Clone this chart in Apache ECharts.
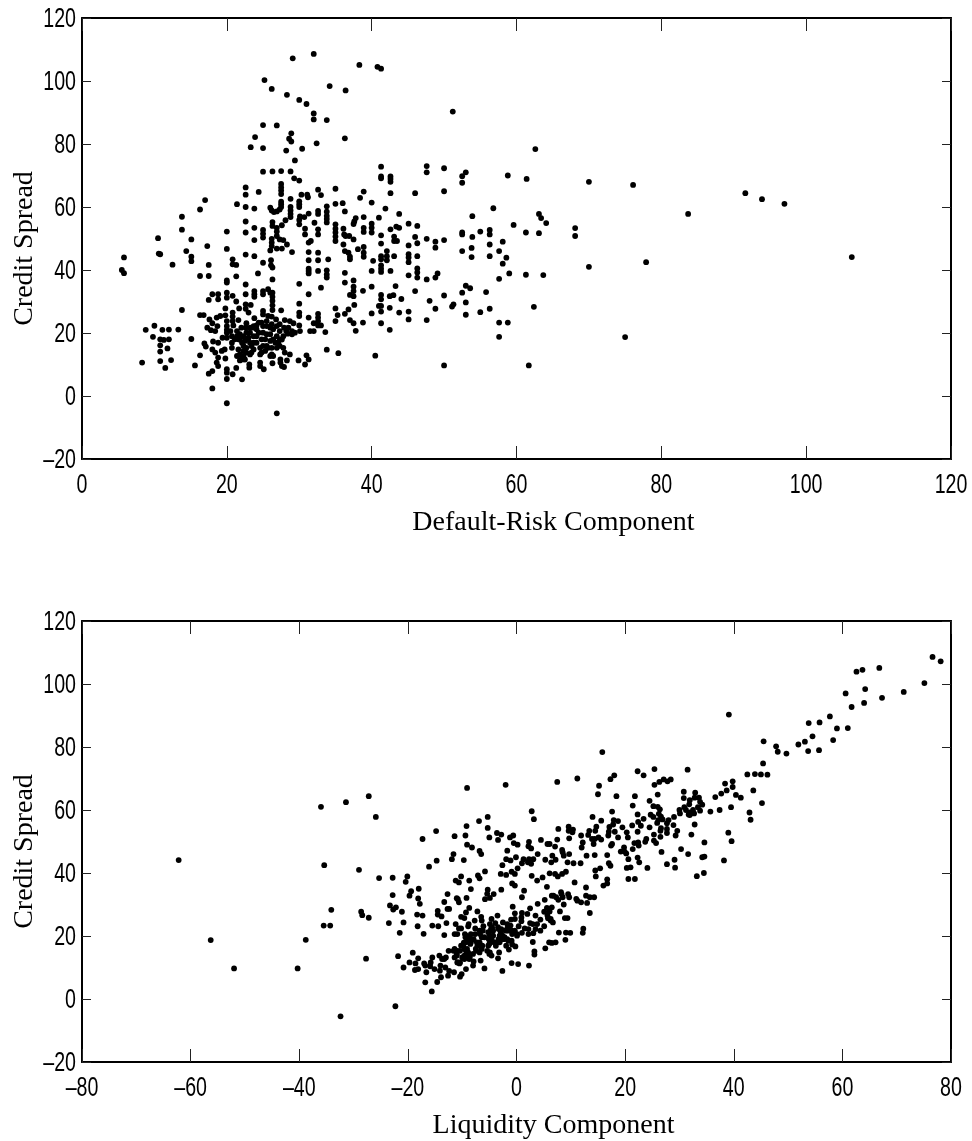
<!DOCTYPE html>
<html>
<head>
<meta charset="utf-8">
<style>html,body{margin:0;padding:0;background:#fff}#c{width:972px;height:1141px}</style>
<script src="https://cdn.jsdelivr.net/npm/echarts@6/dist/echarts.min.js"></script>
</head>
<body>
<div id="c"></div>
<script>
const defaultRisk = [
29.1,32,38.3,40.8,41.3,25.2,26.2,34.2,36.4,28.3,
30,31,32,32,33.8,51.2,25,26.9,28.9,23.9,
28.6,28.9,36.3,32.4,23.3,25,28.2,30.4,29.4,25,
26.3,27.5,28.8,29.3,30,41.3,41.3,41.3,42.6,42.6,
42.6,47.6,47.6,50,53,52.5,52.5,58.8,61.4,22.6,
22.6,24.4,27.5,27.5,27.5,27.5,32.6,35,30.3,31.1,
31.2,33,38.9,42.6,46,50,28.8,38.4,17,27.5,
27.5,27.5,30,30,30,35,36,40,21.4,16.3,
22.6,23.8,41.9,33.8,36.3,26,26.2,26.5,26.9,27.3,
28.8,28.8,28.8,28.8,32.6,32.6,33.8,33.8,33.8,33.8,
31.3,30.1,30.7,43.8,56.8,53.9,13.8,38.9,41,37.8,
37.6,37.5,13.8,10.5,15.1,20,22.6,22.6,23.8,23.8,
25,25,25,26.3,26.3,27.6,26.9,26.9,26.9,28.1,
30,30,30.8,30.8,32.1,32.6,32.6,35,35,35,
35,35,36.1,36.4,36.2,36.9,37.5,38.9,38.9,40,
40,40,41.3,42.6,43.4,43.8,45.1,46.3,46,46.3,
45.1,43.1,43.1,43.5,41.3,47.6,48.8,48.8,50,52.5,
52.5,53.9,55,56.3,56.3,59.6,61.3,58.1,56.3,52.5,
53.8,53.8,56.3,57.6,58.6,58.1,59,57.6,61.3,5.8,
5.5,5.8,10.6,10.8,12.5,14.4,15.1,15.1,17.3,17.5,
20,16.3,17.5,20.8,20.8,21.3,22.6,23.8,25,26.1,
26.1,26.3,21.3,24.3,20,20,22.6,26.3,30,33,
31.3,31.3,31.3,31.3,31.3,32.6,32.6,32.6,34,33.8,
33.8,33.8,29,26,26.9,27.6,26.2,26.2,26.2,27.3,
27.8,28.3,31.3,31.6,36.1,36.3,36.8,37,37,38.1,
38.9,38.9,38.9,40.2,41.3,41.3,41.3,41.3,41.3,42.1,
42.1,42.1,43.1,45.1,45.1,45.1,46.3,42.6,40,36.3,
45.1,46.3,46.3,46.3,47.6,49.1,48.8,40,37.5,37.5,
37.5,37.5,37,38.8,36.3,43.3,46,31.3,42.5,43,
41.3,41.3,41.3,41.3,41,44.1,48,50,52.5,53,
53.6,55.8,53,51.3,51.1,48.8,42.5,43.8,45.1,45.1,
47.6,53,55,56.3,57.6,58.8,57.6,50,61.7,40.5,
35.4,33.8,42.5,41.3,40,38.8,37.8,37.5,37,36.8,
36.3,37.6,35,35.3,35,32.6,32.6,32.6,32.6,32,
33,33.6,31.5,32,31.3,30,30,30,30,30.1,
29.4,29,27.5,26.3,26.3,26.3,26.3,26.3,25.7,26,
25,25,23.8,23.8,23.8,22.6,22.6,23.3,21.3,20.8,
20,20,18.8,18.8,18,17.5,13.8,8.8,10,11.1,
12,13.3,9.8,10.8,11.3,12,10.8,10.8,11.8,15.1,
8.3,10.8,12.3,11.5,15.6,16.3,16.9,17.1,17.3,17.8,
18.4,17.6,18,18.7,18.6,19.1,19.8,19.8,20.8,20.8,
21.7,22.6,23,21.6,20,20,20,20.8,20.9,23.8,
22.7,25,25,25.7,26.2,26.8,24.8,23.7,24.1,27.3,
28,28.7,29.2,27.3,28.4,29,21.4,21.8,20.7,21.1,
19.4,18.1,18.8,18,18.4,19.3,19.7,20.7,20.7,21.6,
22.3,22.5,23,23.2,23.7,22.3,22.3,22.5,21.8,23.2,
23.1,23.1,24.1,24.1,24.1,25,25,24.8,25,24.8,
24.6,26,26,26,26.2,26.2,25.5,26.9,26.7,27.3,
27.8,28,28.7,20,18.6,18.8,19.8,18.8,17.5,18,
20,20,20,20.8,21.3,22.1,18,20,26.9,24.6,
24.6,25.1,26.3,27.4,27.4,27.6,27.9,28.3,29.9,30.8,
31,31.3,22,22.4,21.6,22.1,22.7,23.4,23.7,23.7,
23.4,25.3,25.5,25.5,26.4,26.4,27.3,27.8,28.2,16.3,
16.8,62.6,70,76.1,83.7,91.6,93.9,97,106.3,77.9,
75,70,68.1,68.1,63.1,63.4,64.1,63.1,62.4,63.7,
20,20.5,21.4,21.8,22.3,22.7,23.2,22.6,22,24.4,
25.5,26.2,26.9,27.9,28.5,23.2,23.7,22.7,21.8,21.4,
25.7,25.3,26.9,27.1,27.6,26,26.4,24.6,24.4,22.7
];
const creditSpread = [
107.2,108.6,105.1,104.5,103.9,100.3,97.5,98.4,97,95.6,
94,92.7,89.7,87.8,87.6,90.3,86,85.9,83.4,82.2,
81.7,80.8,81.8,80.2,79,78.7,77.9,78.5,74.8,71.2,
71.3,71.4,71.3,69.1,68.4,72.8,69.7,69.1,69.7,68.9,
68,73,71,72.3,71,69.8,67.7,70,68.9,66.2,
63.9,64.8,67.3,66.2,65.2,64.1,65.5,65.8,63.9,63.9,
63.1,63.8,64.9,64.4,64.4,65,62.6,62.9,62.2,61.7,
60.9,60,61.8,60.9,60,61,61.2,61.4,60.9,59.2,
60,59.5,59.5,60.2,58.6,59.8,58.9,58.4,58.6,59.2,
60,58.9,57.8,56.8,58.8,57.8,58.5,57.2,56.2,55.1,
57.9,57,56.8,57.8,59.6,57.1,56.9,56.8,56.6,56.5,
55.4,54.6,52.8,50.1,49.7,52.2,55.4,51.9,53.4,49.5,
52.7,51.5,50.3,55.2,54,54.2,53.4,52.2,50.8,55.8,
55.9,54.5,53.1,51.3,55,52.9,51.3,54.5,53.1,51.9,
50.6,49.2,53.1,50.8,51.3,50.8,49.7,53.4,52.1,54.7,
53.4,51.9,51,52.9,53.8,53.4,54.7,54,50.5,48.5,
47.8,50.6,49.2,49.2,48.4,49.9,49,47.1,49.5,51.9,
51.3,50.5,52.2,52.7,51.3,54.3,51.9,49,48.1,46,
47,44.1,44.4,46,43.9,42,38.9,37.2,38.5,44,
40,39,45.2,45,41.7,46,44.2,42.8,47.6,41.6,
46.7,38.1,38.1,43.4,41.8,41.6,44.9,44.4,42.3,43.1,
41.5,40.8,38,38.9,36,36.7,35.4,37,35.6,34.4,
45.7,43.1,40.4,39.7,38.9,45.5,43.1,39.7,43.4,39.9,
38.6,37.6,45.7,46.2,46.8,46.8,49.9,48.7,47.6,49.7,
49.5,48.1,48.7,49.2,48.1,46,45.5,44.2,43.4,46.6,
47.3,45.5,44.2,42.9,44.4,43.4,41.5,40.4,39.4,46,
44.4,43.1,44.4,45,44,42.5,44.4,39.7,39.7,39.1,
38.3,40.5,39.2,37.6,37,38.9,37.6,34.7,36.7,34.7,
33.3,31.7,32.1,33.4,36,34.9,33.3,32.3,31.7,32,
32.1,30.7,28.6,26.8,28.6,30.8,30.2,31.9,32.8,35,
34.2,33,29.7,29.1,28.4,27.7,28,26.5,26.8,24.3,
24.1,25.8,26.6,27.7,23.3,23.3,18.8,9.7,9.7,12.8,
13.6,14.7,21,23.1,26.2,23.3,20.7,23.1,24.1,27.5,
26.1,28.9,27.8,25.7,23.8,26.1,24.9,23.8,22.4,23.1,
22.4,20.3,20.6,20.6,24.9,29.3,26.5,25.4,22.4,20.6,
20.1,19.6,27.2,32.8,31.5,30.2,28.8,27.3,33.9,32.8,
33.3,32.3,33.3,32.3,31.5,32.3,29.1,28.9,30,31.8,
32.8,31.2,32.3,30.7,32.3,30.5,27.3,21,22.3,21,
21.1,21.1,18.8,18,17.8,18,16.1,14.1,15.1,18.1,
10.6,11.1,11.4,8.9,9.7,12.9,16.7,15.7,21.7,20.9,
20.6,24.3,23.1,22.2,24.9,25.4,25.6,27.8,26.5,25.2,
27.8,27.7,26.5,24.1,23.8,22.2,21,23.8,22.4,24.7,
23.1,27,25.9,25.4,25.2,24.3,23.3,22.2,22.4,22.8,
24.1,23.8,23.1,20.6,19.8,20.6,20.6,19.6,19,18,
18.5,17.3,16.9,14.8,13.8,14.3,14.8,16.9,15.3,14.8,
15.9,17.5,18.5,20.1,21.7,14.3,12.7,11.6,11.3,13.2,
10,9,21.2,19,16.9,22.2,20.1,18,15.9,13.8,
13.2,21.7,19.6,17.5,15.3,13.2,15.9,19,16.9,15.9,
15.3,13.8,13.2,18.5,10.6,12.2,11.9,9.5,7.1,7.9,
8.5,7.4,5.4,6.9,8.9,5.3,2.4,-2.3,-5.5,10.6,
9.5,8.5,10.4,11.6,10.6,9.5,9.2,11.3,11.3,10,
12.9,11.6,11.6,11.6,18,16.9,15.3,13.8,19,16.9,
15.9,18,19.6,22.2,18,21.2,18,19,20.6,25.7,
25.7,78.4,68,67,57.8,64.4,62.5,61,44.1,42.5,
18.7,41,53.3,50.8,57.8,56.5,54.9,51.7,28.3,38.4,
20.1,20.6,19,17.9,19,20.1,21.7,21.7,21.7,23.3,
23.8,22.8,22.2,21.7,21.7,16.9,14.8,13.8,13.2,12.7,
15.3,14.3,15.3,16.9,17.9,12.7,12.7,15.3,20.1,18
];
const liquidity = [
78.1,76.6,66.8,63.7,62.6,75.1,71.3,64.2,60.6,67.3,
64,61.7,57.7,55.8,53.8,39.1,61,59,54.5,58.3,
53.1,51.9,45.5,47.8,55.7,53.7,49.7,48.1,45.4,46.2,
45,43.9,42.5,39.8,38.4,31.5,28.4,27.8,27.1,26.3,
25.4,25.4,23.4,22.3,18,17.3,15.2,11.2,7.5,43.6,
41.3,40.4,39.8,38.7,37.7,36.6,32.9,30.8,33.6,32.8,
31.9,30.8,26,21.8,18.4,15,33.8,24.5,45.2,34.2,
33.4,32.5,31.8,30.9,30,26,25.2,21.4,39.5,42.9,
37.4,35.7,17.6,26.4,22.3,33.8,32.7,31.9,31.7,31.9,
31.2,30.1,29,28,26.2,25.2,24.7,23.4,22.4,21.3,
26.6,26.9,26.1,14,2.8,3.2,43.1,17.9,15.6,18.7,
17.8,17.1,39,39.6,34.6,32.2,32.8,29.3,29.6,25.7,
27.7,26.5,25.3,28.9,27.7,26.6,26.5,25.3,23.9,27.7,
25.9,24.5,22.3,20.5,22.9,20.3,18.7,19.5,18.1,16.9,
15.6,14.2,17,14.4,15.1,13.9,12.2,14.5,13.2,14.7,
13.4,11.9,9.7,10.3,10.4,9.6,9.6,7.7,4.5,2.2,
2.7,7.5,6.1,5.7,7.1,2.3,0.2,-1.7,-0.5,-0.6,
-1.2,-3.4,-2.8,-3.6,-5,-5.3,-9.4,-9.1,-8.2,-6.5,
-6.8,-9.7,-11.9,-11.6,-14.7,-16.1,-20.1,-20.4,-22.8,38.2,
34.5,33.2,34.6,34.2,29.2,31.6,29.1,27.7,30.3,24.1,
26.7,21.8,20.6,22.6,21,20.3,22.3,20.6,17.3,17,
15.4,14.5,16.7,14.6,16,16.7,12.8,10.7,5.6,1.4,
14.4,11.8,9.1,8.4,7.6,12.9,10.5,7.1,9.4,6.1,
4.8,3.8,16.7,20.2,19.9,19.2,23.7,22.5,21.4,22.4,
21.7,19.8,17.4,17.6,12,9.7,8.7,7.2,6.4,8.5,
8.4,6.6,5.3,2.7,3.1,2.1,0.2,-0.9,-1.9,3.9,
2.3,1,1.3,-0.1,-1.1,-2.6,-1.9,-2.9,-0.3,2.8,
-6.8,-5.8,-7.1,-8.7,-10.6,-10.2,-11.2,-5.3,-0.8,-2.8,
-4.2,-5.8,-4.9,-5.4,-0.3,-8.4,-12.7,1,-10.8,-11,
-9.2,-10.6,-12.7,-14.5,-12.4,-13.3,-17.8,-18.1,-19.7,-18,
-19.4,-22.8,-23.3,-22.2,-22.7,-21.1,-14.5,-17.3,-18.3,-20.8,
-23.5,-27.2,-28.4,-28.6,-34.3,-35.5,-38.8,-40.3,-52,-27.7,
-21.8,-19.1,-21.5,-18.2,-13.8,-15.5,-17.1,-14.4,-12.9,-9.3,
-10.2,-8.7,-7.2,-9.6,-11.2,-6.5,-7.7,-8.8,-10.2,-8.9,
-10.6,-13.3,-10.9,-11.4,-6.4,-0.7,-3.5,-4.6,-7.6,-9.5,
-9.3,-9.4,-0.3,6.5,5.2,3.9,2.5,1,8.2,6.8,
8.3,7.3,9.5,8.5,7.7,9.7,6.5,5.6,8.7,11,
12.8,11.2,13.5,11.9,14.3,13,13.5,12.2,12.3,9.9,
9.1,7.8,9,7.2,6.5,6,5.3,3.3,3.3,3,
2.3,0.3,-0.9,-2.6,-5.9,-3.4,-0.2,-1.4,4.4,3.1,
2.2,6.7,5.1,3.5,6.3,6.3,5.8,8,5.7,4.4,
6.1,5.1,3.5,2.5,3.8,2.2,1,3,1.5,0.9,
0.4,2,0.9,-0.3,-1,-2.5,-1.5,-1.5,-1.7,-4.5,
-3.9,-4.9,-6.1,-6.7,-8.6,-8.4,-0.8,-2.2,-1.7,-3.1,
-0.9,-0.8,-1.9,-3.2,-4.6,-5,-4.9,-3.8,-5.4,-6.8,
-6.4,-5,-4.5,-3.1,-2,-8,-9.6,-10.9,-10.5,-10,
-13.1,-14.1,-2.9,-5.1,-7.2,-2.8,-4.9,-6.8,-9.1,-11,
-11.4,-4.3,-6.4,-8.5,-10.9,-13,-9.6,-7.9,-9.8,-11.4,
-12.5,-14.2,-15.5,-1.5,-8,-6.6,-7.9,-9.3,-10.4,-10.1,
-11.5,-12.6,-14.6,-13.9,-12.4,-16.8,-15.6,-22.3,-32.4,-14,
-15.1,-16.6,-15.9,-15.8,-16.8,-18.1,-18.7,-17,-18.6,-20.8,
-18.1,-19.7,-10.4,-10.8,-3.6,-5.2,-7.4,-9.6,-4.7,-6.8,
-7.5,-7.3,-5.9,-3.3,-8.4,-5.2,-9.3,-8.8,-7.6,9.4,
8.9,15.8,-2,-9.1,-25.9,-27.2,-31.4,-36,-62.2,-35.4,
-56.3,-29,-14.8,-17.3,-5.3,-6.9,-9.2,-11.4,-34.1,-25.3,
0.1,0.1,-2.4,-3.9,-3.3,-2.6,-1.5,-0.9,-0.3,-1.1,
-1.7,-3.4,-4.7,-6.2,-6.8,-6.3,-8.9,-8.9,-8.6,-8.7,
-10.4,-11,-11.6,-10.2,-9.7,-13.3,-13.7,-9.3,-4.3,-4.7
];
const xTicksTop = [0,20,40,60,80,100,120];
const xTicksBottom = [-80,-60,-40,-20,0,20,40,60,80];
const yTicks = [-20,0,20,40,60,80,100,120];
const xTitleTop = 'Default-Risk Component';
const xTitleBottom = 'Liquidity Component';
const yTitle = 'Credit Spread';

const NAME = {fontFamily:'"Liberation Serif",serif',fontSize:28,color:'#000'};
const fmt = v => String(v).replace('-', '\u2013');
const line = {show:true,onZero:false,lineStyle:{color:'#000',width:2}};
const tickV = {show:true,inside:true,length:13,lineStyle:{color:'#222',width:1}};
const tickH = {show:true,inside:true,length:9,lineStyle:{color:'#222',width:1}};

function xAxes(gi,ticks,name){
  const min=ticks[0],max=ticks[ticks.length-1];
  return [
   {gridIndex:gi,type:'value',min,max,interval:20,position:'bottom',axisLine:line,axisTick:tickV,
    axisLabel:{show:false},splitLine:{show:false},
    name,nameLocation:'middle',nameGap:50,nameTextStyle:{...NAME,padding:[0,0,0,74]}},
   {gridIndex:gi,type:'value',min,max,interval:20,position:'top',axisLine:line,axisTick:tickV,
    axisLabel:{show:false},splitLine:{show:false}}
  ];
}
function yAxes(gi){
  return [
   {gridIndex:gi,type:'value',min:yTicks[0],max:yTicks[yTicks.length-1],interval:20,position:'left',axisLine:line,axisTick:tickH,
    axisLabel:{show:false},splitLine:{show:false},
    name:yTitle,nameLocation:'middle',nameGap:43,nameTextStyle:{...NAME,padding:[0,20,0,0]}},
   {gridIndex:gi,type:'value',min:yTicks[0],max:yTicks[yTicks.length-1],interval:20,position:'right',axisLine:line,axisTick:tickH,
    axisLabel:{show:false},splitLine:{show:false}}
  ];
}
const zip = (a,b) => a.map((v,i)=>[v,b[i]]);
const chart = echarts.init(document.getElementById('c'),null,{renderer:'canvas'});
chart.setOption({
  animation:false,
  backgroundColor:'#fff',
  grid:[{left:82,top:18,width:869,height:441,outerBoundsMode:'none'},{left:82,top:621,width:869,height:441,outerBoundsMode:'none'}],
  xAxis:[...xAxes(0,xTicksTop,xTitleTop),...xAxes(1,xTicksBottom,xTitleBottom)],
  yAxis:[...yAxes(0),...yAxes(1)],
  series:[
   {type:'scatter',xAxisIndex:0,yAxisIndex:0,data:zip(defaultRisk,creditSpread),symbol:'circle',symbolSize:5.8,itemStyle:{color:'#000',opacity:1},silent:true},
   {type:'scatter',xAxisIndex:2,yAxisIndex:2,data:zip(liquidity,creditSpread),symbol:'circle',symbolSize:5.8,itemStyle:{color:'#000',opacity:1},silent:true}
  ]
});
// Tick labels: the reference uses a condensed sans; none is installed, so real text is squeezed horizontally.
const labelStyle = (text,align) => ({text,fontFamily:'"Liberation Sans",sans-serif',fontSize:28,fill:'#000',textAlign:align,textVerticalAlign:'middle'});
const SQUEEZE = 0.7;
const tickGraphics = [];
[[0,xTicksTop],[2,xTicksBottom]].forEach(([axisIndex,ticks],n)=>{
  const bottom = n===0 ? 459 : 1062;
  ticks.forEach(t=>{
    tickGraphics.push({type:'text',silent:true,x:chart.convertToPixel({xAxisIndex:axisIndex},t),y:bottom+26,scaleX:SQUEEZE,style:labelStyle(fmt(t),'center')});
  });
});
[0,2].forEach(axisIndex=>{
  yTicks.forEach(t=>{
    tickGraphics.push({type:'text',silent:true,x:76,y:chart.convertToPixel({yAxisIndex:axisIndex},t)+1.5,scaleX:SQUEEZE,style:labelStyle(fmt(t),'right')});
  });
});
chart.setOption({graphic:tickGraphics});
</script>
</body>
</html>
